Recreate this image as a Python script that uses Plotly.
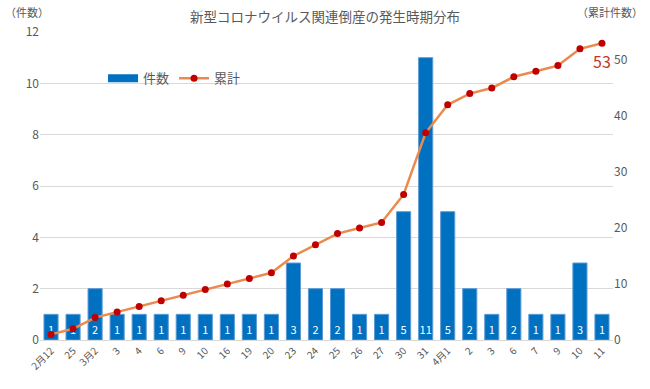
import plotly.graph_objects as go

tick_labels = ["2月12", "25", "3月2", "3", "4", "6", "9", "10", "16", "19", "20", "23", "24",
               "25", "26", "27", "30", "31", "4月1", "2", "3", "6", "7", "9", "10", "11"]
counts = [1, 1, 2, 1, 1, 1, 1, 1, 1, 1, 1, 3, 2, 2, 1, 1, 5, 11, 5, 2, 1, 2, 1, 1, 3, 1]
cumulative = [1, 2, 4, 5, 6, 7, 8, 9, 10, 11, 12, 15, 17, 19, 20, 21, 26, 37, 42, 44, 45, 47, 48, 49, 52, 53]

idx = list(range(len(tick_labels)))
font = "Noto Sans CJK JP, Noto Sans, sans-serif"
gray = "#595959"
blue = "#0070C0"

fig = go.Figure()
fig.add_trace(go.Bar(
    x=idx, y=counts, name="件数", showlegend=False,
    marker=dict(color=blue, line=dict(color="#5B9BD5", width=1)),
    text=[str(v) for v in counts], textposition="inside", insidetextanchor="start",
    textfont=dict(color="white", size=11, family=font), textangle=0,
    yaxis="y",
))
# legend entry drawn as a wide blue rectangle, like the reference
fig.add_trace(go.Scatter(
    x=[None], y=[None], name="件数", mode="lines",
    line=dict(color=blue, width=8), yaxis="y",
))
fig.add_trace(go.Scatter(
    x=idx, y=cumulative, name="累計", mode="lines+markers",
    line=dict(color="#EB8A4E", width=2.5),
    marker=dict(color="#C00000", size=7),
    yaxis="y2",
))

fig.add_annotation(x=idx[-1], y=cumulative[-1], yref="y2", text=str(cumulative[-1]),
                   showarrow=False, yshift=-18, font=dict(color="#C0392B", size=16, family=font))

fig.update_layout(
    width=650, height=389,
    margin=dict(l=40, r=37, t=32, b=49, autoexpand=False),
    paper_bgcolor="white", plot_bgcolor="white",
    font=dict(family=font, color=gray, size=11),
    uniformtext=dict(minsize=11, mode="show"),
    title=dict(text="新型コロナウイルス関連倒産の発生時期分布", x=0.5, xanchor="center",
               y=0.955, yanchor="middle", font=dict(size=13.5, color=gray)),
    bargap=0.36,
    showlegend=True,
    legend=dict(orientation="h", x=0.11, y=0.85, xanchor="left", yanchor="middle",
                font=dict(size=13, color=gray), bgcolor="rgba(0,0,0,0)"),
    xaxis=dict(tickmode="array", tickvals=idx, ticktext=tick_labels, tickangle=-45,
               range=[-0.5, len(idx) - 0.5], showgrid=False, showline=True, automargin=False,
               linecolor="#D9D9D9", ticks="", tickfont=dict(size=10, color=gray)),
    yaxis=dict(range=[0, 12], dtick=2, showgrid=True, gridcolor="#D9D9D9", automargin=False,
               zeroline=False, ticks="", tickfont=dict(size=12, color=gray)),
    yaxis2=dict(range=[0, 55], tickvals=[0, 10, 20, 30, 40, 50], overlaying="y",
                side="right", showgrid=False, zeroline=False, ticks="", automargin=False,
                tickfont=dict(size=12, color=gray)),
    annotations=list(fig.layout.annotations) + [
        dict(text="（件数）", xref="paper", yref="paper", x=-0.065, y=1.065,
             xanchor="left", yanchor="middle", showarrow=False,
             font=dict(size=11, color=gray)),
        dict(text="（累計件数）", xref="paper", yref="paper", x=1.055, y=1.065,
             xanchor="right", yanchor="middle", showarrow=False,
             font=dict(size=11, color=gray)),
    ],
)

fig.write_html("out.html", config={"displayModeBar": False},
               post_script="document.body.style.margin='0';")
